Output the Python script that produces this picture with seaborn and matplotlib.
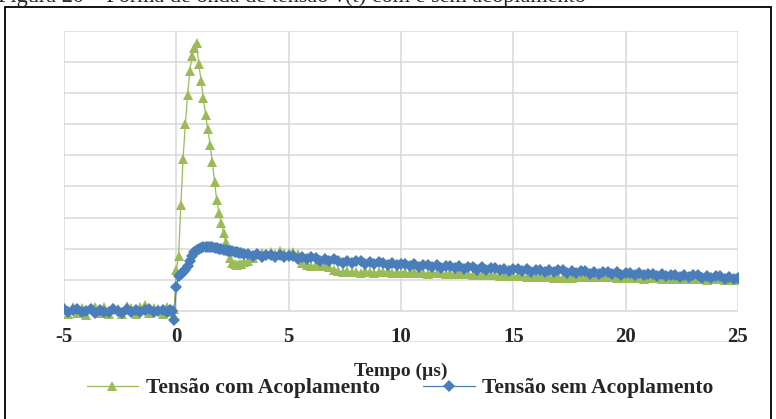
import numpy as np
import pandas as pd
import seaborn as sns
import matplotlib
matplotlib.use("Agg")
import matplotlib.pyplot as plt
from matplotlib.patches import Rectangle
from matplotlib.lines import Line2D

# ---------------------------------------------------------------------------
# Measured waveforms (time in microseconds, voltage in grid units)
# ---------------------------------------------------------------------------
# pre-trigger samples: -5.0 ... -0.4 us, step 0.2
t_pre = np.round(np.arange(-5.0, -0.39, 0.2), 1)
# fast samples around the impulse: -0.3 ... 3.0 us, step 0.1
t_fast = np.round(np.arange(-0.3, 3.01, 0.1), 1)
# tail samples: 3.2 ... 25.0 us, step 0.2
t_tail = np.round(np.arange(3.2, 25.01, 0.2), 1)

com_pre = [0.08, -0.10, 0.12, -0.06, 0.10, -0.12, 0.07, 0.14, -0.08, 0.11,
           -0.11, 0.09, 0.05, -0.10, 0.15, 0.08, -0.09, 0.12, 0.20, -0.07,
           0.10, 0.06, -0.11, 0.13]
com_fast = [0.04, -0.05, 0.05, 1.30, 1.75, 3.40, 4.90, 6.00, 6.95, 7.70,
            8.20, 8.45, 8.60, 7.95, 7.40, 6.85, 6.30, 5.85, 5.35, 4.80,
            4.15, 3.55, 3.15, 2.82, 2.50, 2.20, 1.95, 1.70, 1.55, 1.50,
            1.48, 1.50, 1.52, 1.56]
com_tail = [1.62, 1.70, 1.82, 1.86, 1.84,
            1.88, 1.83, 1.92, 1.85, 1.87,
            1.90, 1.82, 1.55, 1.48, 1.45,
            1.47, 1.43, 1.46, 1.40, 1.32,
            1.28, 1.25, 1.27, 1.24, 1.26,
            1.23, 1.27, 1.25, 1.22, 1.26,
            1.24, 1.27, 1.23, 1.25, 1.22,
            1.24, 1.21, 1.26, 1.22, 1.23,
            1.20, 1.24, 1.21, 1.23, 1.19,
            1.22, 1.19, 1.21, 1.18, 1.20,
            1.17, 1.19, 1.15, 1.18, 1.14,
            1.16, 1.13, 1.15, 1.12, 1.14,
            1.11, 1.13, 1.10, 1.12, 1.09,
            1.11, 1.08, 1.10, 1.07, 1.09,
            1.06, 1.09, 1.07, 1.10, 1.08,
            1.12, 1.09, 1.13, 1.10, 1.12,
            1.08, 1.11, 1.07, 1.10, 1.06,
            1.09, 1.05, 1.08, 1.04, 1.07,
            1.05, 1.08, 1.03, 1.06, 1.04,
            1.07, 1.03, 1.05, 1.02, 1.04,
            1.01, 1.04, 1.00, 1.03, 1.01,
            1.02, 0.99, 1.01, 1.00, 1.02]

sem_pre = [0.05, -0.05, 0.03, 0.06, -0.04, 0.01, 0.06, -0.06, 0.04, -0.02,
           -0.05, 0.05, 0.00, -0.06, 0.06, -0.03, 0.04, -0.05, 0.02, 0.05,
           -0.04, 0.01, 0.04, -0.03]
sem_fast = [0.02, 0.00, -0.30, 0.78, 1.12, 1.20, 1.26, 1.32, 1.45, 1.60,
            1.76, 1.88, 1.95, 2.00, 2.03, 2.05, 2.05, 2.06, 2.05, 2.04,
            2.03, 2.02, 2.00, 1.99, 1.97, 1.96, 1.94, 1.92, 1.91, 1.89,
            1.88, 1.86, 1.85, 1.83]
sem_tail = [1.84, 1.76, 1.82, 1.74, 1.80,
            1.80, 1.72, 1.79, 1.73, 1.78,
            1.76, 1.68, 1.74, 1.67, 1.72,
            1.69, 1.61, 1.68, 1.60, 1.66,
            1.62, 1.55, 1.61, 1.53, 1.59,
            1.59, 1.51, 1.57, 1.50, 1.56,
            1.55, 1.47, 1.54, 1.46, 1.52,
            1.51, 1.43, 1.50, 1.42, 1.48,
            1.48, 1.40, 1.46, 1.39, 1.45,
            1.45, 1.37, 1.43, 1.36, 1.42,
            1.41, 1.33, 1.40, 1.32, 1.38,
            1.38, 1.30, 1.36, 1.29, 1.35,
            1.35, 1.27, 1.34, 1.26, 1.32,
            1.33, 1.25, 1.31, 1.24, 1.30,
            1.30, 1.22, 1.29, 1.21, 1.27,
            1.28, 1.20, 1.26, 1.19, 1.25,
            1.26, 1.18, 1.25, 1.17, 1.23,
            1.23, 1.15, 1.21, 1.14, 1.20,
            1.20, 1.12, 1.19, 1.11, 1.17,
            1.17, 1.09, 1.15, 1.08, 1.14,
            1.14, 1.06, 1.13, 1.05, 1.11,
            1.11, 1.03, 1.09, 1.02, 1.06]

series_names = ["Tensão com Acoplamento", "Tensão sem Acoplamento"]
x_ticks = [-5, 0, 5, 10, 15, 20, 25]
x_tick_labels = ["-5", "0", "5", "10", "15", "20", "25"]
y_grid = [-1, 0, 1, 2, 3, 4, 5, 6, 7, 8, 9]
x_title = "Tempo (µs)"
caption = "Figura 20 – Forma de onda de tensão v(t) com e sem acoplamento"

time = np.concatenate([t_pre, t_fast, t_tail])
df = pd.concat([
    pd.DataFrame({"t": time, "v": com_pre + com_fast + com_tail,
                  "serie": series_names[0]}),
    pd.DataFrame({"t": time, "v": sem_pre + sem_fast + sem_tail,
                  "serie": series_names[1]}),
], ignore_index=True)

# ---------------------------------------------------------------------------
# Styling
# ---------------------------------------------------------------------------
sns.set_theme(style="white")
plt.rcParams["font.family"] = ["Liberation Serif", "DejaVu Serif"]
plt.rcParams["axes.unicode_minus"] = False

GREEN = "#9BBB59"
BLUE = "#4A7EBB"
GRID = "#D9D9D9"
TRI_SIZE = 7.5
DIA_SIZE = 6.0

W, H = 776, 419
fig = plt.figure(figsize=(W / 100, H / 100), dpi=100)
fig.patch.set_facecolor("white")

# plot area in pixels: x from 64 to 738, y from 31 to 342
ax = fig.add_axes([64 / W, (H - 342) / H, (738 - 64) / W, (342 - 31) / H])
ax.set_xlim(-5, 25)
ax.set_ylim(-1, 9)

# gridlines
for yv in y_grid:
    ax.axhline(yv, color=GRID, lw=1.1, zorder=0)
ax.vlines(x_ticks, 0, 9, color=GRID, lw=1.1, zorder=0)

sns.lineplot(data=df[df.serie == series_names[0]], x="t", y="v", ax=ax,
             color=GREEN, lw=0.9, marker="^", markersize=TRI_SIZE,
             markeredgewidth=0, sort=False, estimator=None, legend=False,
             zorder=2)
sns.lineplot(data=df[df.serie == series_names[1]], x="t", y="v", ax=ax,
             color=BLUE, lw=0.9, marker="D", markersize=DIA_SIZE,
             markeredgewidth=0, sort=False, estimator=None, legend=False,
             zorder=3)

for s in ax.spines.values():
    s.set_visible(False)
ax.set_yticks([])
ax.set_xticks(x_ticks)
ax.set_xticklabels(x_tick_labels, fontsize=15, fontweight="bold")
ax.tick_params(axis="x", length=0, pad=-11)
ax.set_ylabel("")
ax.set_xlabel(x_title, fontsize=14, fontweight="bold")
ax.xaxis.set_label_coords(0.5, -0.066)

handles = [
    Line2D([], [], color=GREEN, lw=0.9, marker="^", markersize=TRI_SIZE,
           markeredgewidth=0),
    Line2D([], [], color=BLUE, lw=0.9, marker="D", markersize=DIA_SIZE,
           markeredgewidth=0),
]
fig.legend(handles, series_names, loc="center", ncol=2,
           bbox_to_anchor=(400 / W, (H - 388) / H), frameon=False,
           prop={"size": 15.5, "weight": "bold"}, handlelength=2.4,
           handletextpad=0.35, columnspacing=2.0, borderpad=0)

# caption line above the frame (mostly outside the canvas)
fig.text(-2 / W, 1 - 2 / H, caption, fontsize=16, ha="left", va="baseline")

# frame around the figure
fig.patches.append(Rectangle((5 / W, -0.1), (771 - 5) / W, (H - 7) / H + 0.1,
                             transform=fig.transFigure, fill=False,
                             edgecolor="black", lw=1.3, clip_on=False))

fig.savefig("out.png", dpi=100)
